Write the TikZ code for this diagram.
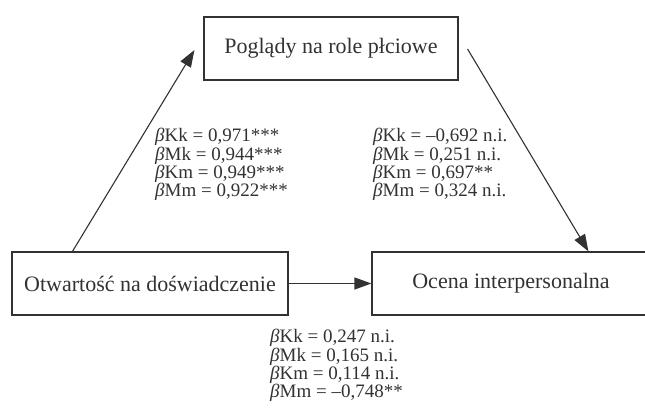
\documentclass[tikz,border=0pt]{standalone}
\usepackage{fontspec}
\setmainfont{Liberation Serif}
\usetikzlibrary{arrows.meta,calc}
\definecolor{ink}{RGB}{50,50,50}

\begin{document}
\begin{tikzpicture}[x=1pt,y=-1pt,
  box/.style={draw=ink, line width=1.1pt, text=ink, inner sep=0pt,
    minimum height=63pt, font=\fontsize{22}{26}\selectfont},
  lbl/.style={anchor=north west, align=left, inner sep=0pt, text=ink,
    font=\fontsize{19}{16.5}\selectfont},
  arr/.style={draw=ink, line width=1.1pt, -{Triangle[length=17pt,width=12pt]}}]
\clip (0,0) rectangle (645,410);
\useasboundingbox (0,0) rectangle (645,410);

\node [box, minimum width=254pt] (poglady) at (331,48.5) {Poglądy na role płciowe};
\node [box, minimum width=276pt] (otwartosc) at (150,283.5) {Otwartość na doświadczenie};
\node [box, minimum width=278pt] (ocena) at (511,283.5) {Ocena interpersonalna};

\coordinate (a1) at ($(otwartosc.north west)+(61,0)$);
\coordinate (a2) at ($(poglady.west)+(-9,1.5)$);
\coordinate (b1) at ($(poglady.east)+(9,0.5)$);
\coordinate (b2) at ($(ocena.north west)+(217,0)$);

\draw [arr] (a1) -- (a2);
\draw [arr] (b1) -- (b2);
\draw [arr] (otwartosc.east) -- (ocena.west);

\node [lbl] (lewy) at (155,128) {{\itshape β}Kk = 0,971***\\ {\itshape β}Mk = 0,944***\\
  {\itshape β}Km = 0,949***\\ {\itshape β}Mm = 0,922***};
\node [lbl] (prawy) at (373,128) {{\itshape β}Kk = –0,692 n.i.\\ {\itshape β}Mk = 0,251 n.i.\\
  {\itshape β}Km = 0,697**\\ {\itshape β}Mm = 0,324 n.i.};
\node [lbl] (dolny) at (270,329) {{\itshape β}Kk = 0,247 n.i.\\ {\itshape β}Mk = 0,165 n.i.\\
  {\itshape β}Km = 0,114 n.i.\\ {\itshape β}Mm = –0,748**};

\end{tikzpicture}
\end{document}
